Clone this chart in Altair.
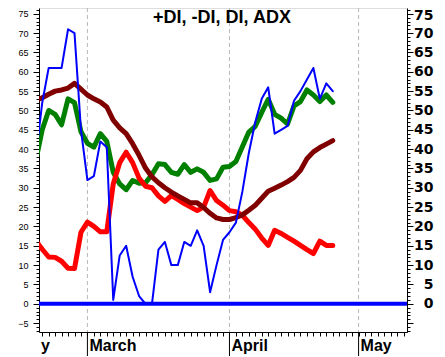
import altair as alt
import pandas as pd

# trading-day index (0 = first visible day), month boundaries on the same index
day_index = list(range(-1, 46))
plus_di = [37, 45, 50, 49, 46.3, 53, 52, 44.5, 41.5, 40.5, 44, 42, 34, 31, 29.5, 31.9,
           31.2, 31.3, 33.4, 36.2, 36, 34, 33.5, 36, 34, 34.9, 34, 31.9, 32.3, 35.3,
           35.5, 36.8, 40.6, 44.4, 45.9, 49.5, 52.9, 49, 48, 46.5, 51.2, 52.3, 55.3,
           54, 52.3, 54, 52.1]
minus_di = [16.3, 14.1, 12.1, 12, 11, 9.2, 9.1, 18.5, 21.1, 20, 18.6, 18.6, 31, 36.5,
            39.2, 36.5, 32.5, 30.4, 30, 27.9, 26.5, 28, 27, 25.9, 25, 24.1, 25, 29.3,
            26.7, 25.5, 24.1, 23.8, 22.9, 21, 19.3, 17, 15.1, 19, 18.2, 17.2, 16.2,
            15.1, 14, 13, 16.2, 15.1, 15.1]
di = [38, 52, 61, 61, 61, 71, 70, 45, 32, 33, 42, 40.5, 1, 12.5, 15, 7, 2, 0, 0, 14,
      16, 10, 10, 16, 15, 19, 15, 3, 10, 16.5, 18.5, 21, 29, 39, 47, 53, 56, 44, 45,
      46, 52.5, 55, 58, 61, 53, 57, 55]
adx = [52.6, 53.3, 54.2, 55, 55.3, 55.8, 57, 55.5, 54, 53, 52.2, 50.9, 47.5, 45.5, 44,
       41.4, 38.4, 35.1, 32.8, 31.3, 30, 28.9, 27.9, 27, 26.1, 26.1, 24.9, 23.4, 22.2,
       21.8, 21.8, 22.3, 23, 24.2, 25.5, 27.3, 29.1, 29.9, 30.7, 31.6, 32.7, 34.5,
       37.5, 39.3, 40.4, 41.3, 42.2]

month_start = [7, 29, 49]
label_pos = [-0.5, 7, 29, 49]
label_text = ["y", "March", "April", "May"]
title_text = "+DI, -DI, DI, ADX"

W, H = 368, 324

df = pd.DataFrame({"day": day_index, "+DI": plus_di, "-DI": minus_di,
                   "DI": di, "ADX": adx})
long = df.melt("day", var_name="series", value_name="value")

xscale = alt.Scale(domain=[-0.5, 56.5], nice=False, zero=False)
yscale = alt.Scale(domain=[-7.3, 76.5], nice=False, zero=False)

x_axis = alt.Axis(values=list(range(0, 57)), labels=False, title=None, grid=False,
                  domainColor="black", tickColor="black", tickSize=4,
                  domainWidth=1, tickWidth=1)

major_tick = {"condition": {"test": "datum.value % 5 === 0", "value": 6}, "value": 3}

y_left_axis = alt.Axis(orient="left", values=list(range(-7, 77)), title=None,
                       grid=False, labelOverlap=False, labelBound=False,
                       labelExpr="datum.value % 5 === 0 ? datum.label : ''",
                       tickSize=major_tick, labelFont="Liberation Sans",
                       labelFontSize=9, labelPadding=5, labelColor="black",
                       tickColor="black", domainColor="black", labelBaseline="middle")

y_right_axis = alt.Axis(orient="right", values=list(range(-7, 77)), title=None,
                        grid=False, labelOverlap=False, labelBound=False,
                        labelExpr="datum.value % 5 === 0 && datum.value >= 0 ? datum.label : ''",
                        tickSize=major_tick, labelFont="DejaVu Sans",
                        labelFontWeight="bold", labelFontSize=14, labelAlign="right",
                        labelPadding=20, labelColor="black", tickColor="black",
                        domainColor="black", labelBaseline="middle",
                        labelOffset={"condition": {"test": "datum.value >= 75", "value": 2},
                                     "value": 0})


def series_line(name, color, width):
    return alt.Chart(long).transform_filter(alt.datum.series == name).mark_line(
        color=color, strokeWidth=width, clip=True, strokeJoin="round", strokeCap="round"
    ).encode(
        x=alt.X("day:Q", scale=xscale, axis=x_axis),
        y=alt.Y("value:Q", scale=yscale, axis=y_left_axis),
    )


lines = alt.layer(
    series_line("+DI", "#008000", 5),
    series_line("-DI", "#ff0000", 5),
    series_line("ADX", "#800000", 5),
    series_line("DI", "#0000ff", 2),
)

months_df = pd.DataFrame({"day": month_start})
grid = alt.Chart(months_df).mark_rule(color="#b8b8b8", strokeDash=[4, 3], strokeWidth=1).encode(
    x=alt.X("day:Q", scale=xscale, axis=x_axis)
)
sep = alt.Chart(months_df).mark_rule(color="black", strokeWidth=1).encode(
    x=alt.X("day:Q", scale=xscale, axis=x_axis),
    y=alt.value(H),
    y2=alt.value(H + 24),
)

zero_df = pd.DataFrame({"level": [0]})
zero = alt.Chart(zero_df).mark_rule(color="#0000ff", strokeWidth=4).encode(
    y=alt.Y("level:Q", scale=yscale, axis=y_right_axis)
)

labels_df = pd.DataFrame({"day": label_pos, "name": label_text})
month_labels = alt.Chart(labels_df).mark_text(
    align="left", baseline="alphabetic", dx=2, font="Liberation Sans",
    fontWeight="bold", fontSize=16, color="black"
).encode(
    x=alt.X("day:Q", scale=xscale, axis=x_axis),
    y=alt.value(H + 19),
    text="name:N",
)

title = alt.Chart(pd.DataFrame({"t": [title_text]})).mark_text(
    align="center", baseline="alphabetic", font="Liberation Sans",
    fontWeight="bold", fontSize=18, color="black"
).encode(x=alt.value(183), y=alt.value(15), text="t:N")

chart = alt.layer(grid, zero, lines, sep, month_labels, title).resolve_scale(
    y="independent"
).properties(
    width=W, height=H,
    autosize=alt.AutoSizeParams(type="none"),
    padding={"left": 31, "top": 0, "right": 30, "bottom": 25},
).configure_view(stroke=None).configure(background="white")

chart.save("out.html", embed_options={"renderer": "svg", "actions": False})
